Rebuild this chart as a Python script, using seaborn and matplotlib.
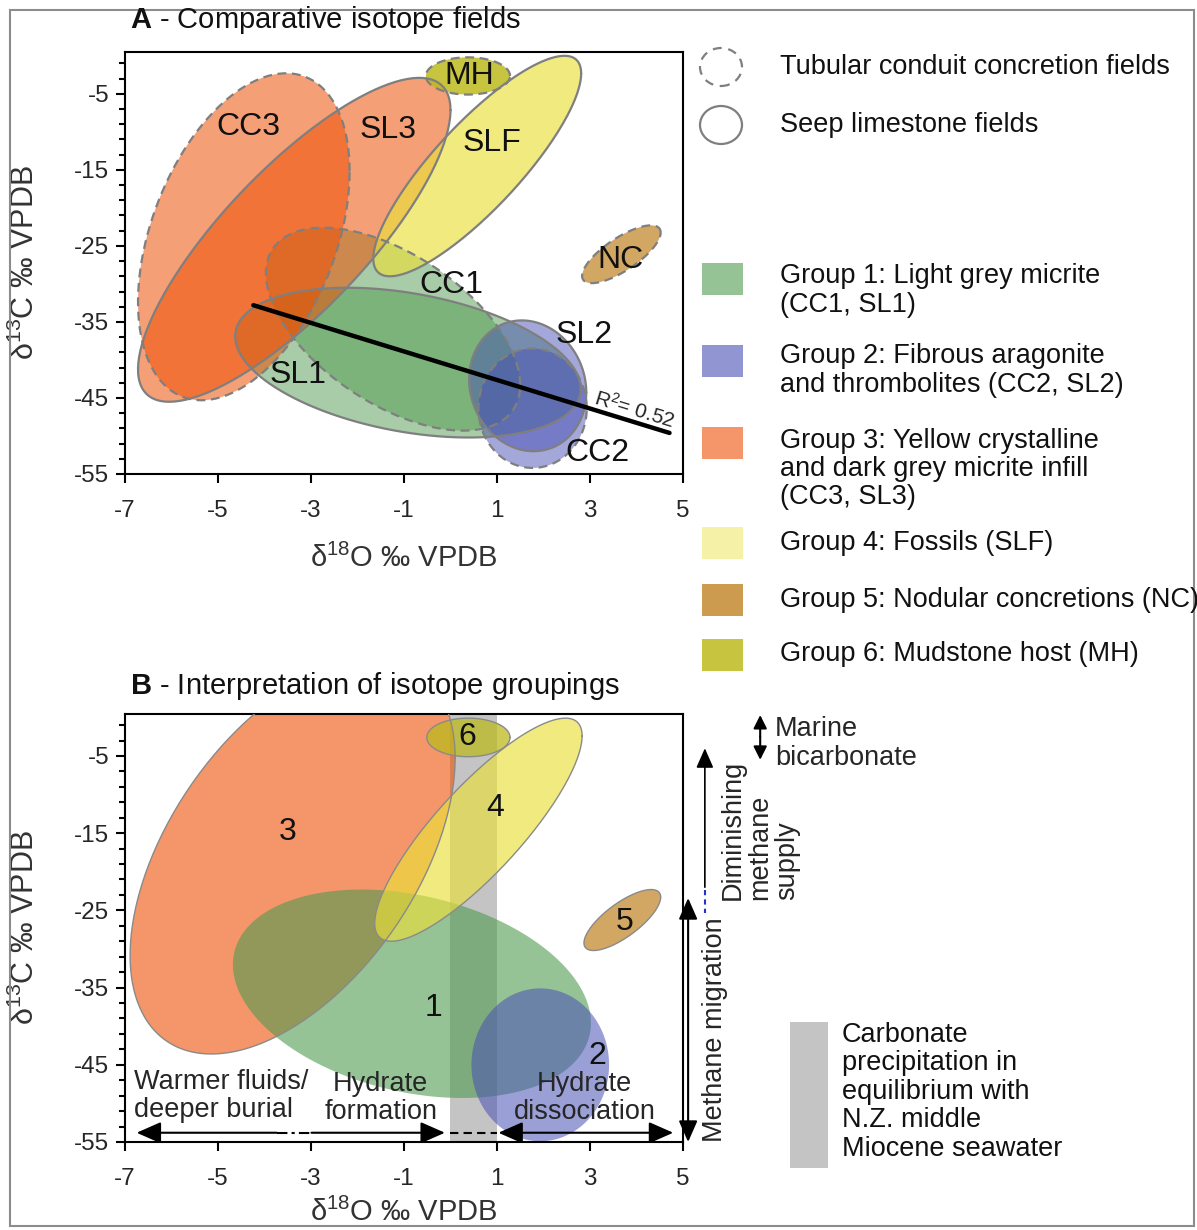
import numpy as np
import pandas as pd
import matplotlib
matplotlib.use("Agg")
import matplotlib.pyplot as plt
from matplotlib.patches import Rectangle, Ellipse
import seaborn as sns

# ===============================
# DATA
# ===============================
x_ticks = [-7, -5, -3, -1, 1, 3, 5]
y_ticks = [-55, -45, -35, -25, -15, -5]
y_minor = list(range(-55, 0, 2))

# Panel A fields: bounding box (d18O, d13C) and tilt of each ellipse
a_names = ["CC1", "SL1", "CC3", "SL3", "SLF", "MH", "NC", "SL2", "CC2"]
a_group = [1, 1, 3, 3, 4, 6, 5, 2, 2]
a_dashed = [True, False, True, False, False, True, True, False, True]
a_x_lo = [-3.97, -4.63, -6.72, -6.72, -1.66, -0.53, 2.83, 0.40, 0.60]
a_x_hi = [1.5, 2.8, -2.17, 0.0, 2.81, 1.28, 4.52, 2.92, 2.93]
a_y_lo = [-49.3, -50.2, -45.3, -45.5, -29.0, -5.1, -29.9, -52.0, -54.2]
a_y_hi = [-22.6, -30.5, -2.3, -2.9, 0.0, -0.2, -22.3, -34.8, -38.5]
a_rho = [-0.55, -0.35, 0.4, 0.8, 0.84, 0.0, 0.75, -0.1, 0.0]
a_lab_x = [0.02, -3.27, -4.34, -1.34, 0.89, 0.4, 3.65, 2.87, 3.16]
a_lab_y = [-30.2, -42.0, -9.3, -9.8, -11.5, -2.6, -26.8, -36.7, -52.3]

# regression line through all data
reg_x = [-4.24, 4.71]
reg_y = [-32.8, -49.6]

# Panel B: interpreted groups
b_group = [3, 1, 4, 2, 6, 5]
b_x_lo = [-6.89, -4.68, -1.63, 0.45, -0.51, 2.87]
b_x_hi = [0.1, 3.02, 2.83, 3.41, 1.28, 4.52]
b_y_lo = [-43.6, -49.3, -29.0, -54.9, -5.1, -30.2]
b_y_hi = [7.5, -22.3, -0.1, -35.1, -0.1, -22.3]
b_rho = [0.5, -0.28, 0.84, 0.0, 0.0, 0.75]
b_edge = [True, False, True, False, True, True]
b_lab_x = [-3.5, -0.37, 0.97, 3.16, 0.36, 3.75]
b_lab_y = [-14.9, -37.7, -11.7, -43.8, -2.6, -26.5]

# seawater equilibrium band (d18O)
band_x = [0.0, 1.0]

group_labels = [
    "Group 1: Light grey micrite\n(CC1, SL1)",
    "Group 2: Fibrous aragonite\nand thrombolites (CC2, SL2)",
    "Group 3: Yellow crystalline\nand dark grey micrite infill\n(CC3, SL3)",
    "Group 4: Fossils (SLF)",
    "Group 5: Nodular concretions (NC)",
    "Group 6: Mudstone host (MH)",
]
group_colors = {1: "#509B50", 2: "#4850B4", 3: "#EE5005",
                4: "#EAE03A", 5: "#C48A30", 6: "#BDBA1E"}
alpha_a = {1: 0.5, 2: 0.5, 3: 0.55, 4: 0.65, 5: 0.75, 6: 0.85}
alpha_b = {1: 0.6, 2: 0.55, 3: 0.6, 4: 0.65, 5: 0.75, 6: 0.75}
alpha_leg = {1: 0.6, 2: 0.6, 3: 0.6, 4: 0.45, 5: 0.85, 6: 0.85}

# ===============================
# STYLE
# ===============================
sns.set_theme(style="ticks")
plt.rcParams["font.family"] = ["Liberation Sans", "DejaVu Sans"]
plt.rcParams["mathtext.fontset"] = "custom"
plt.rcParams["mathtext.rm"] = "Liberation Sans"
plt.rcParams["mathtext.it"] = "Liberation Sans:italic"
plt.rcParams["mathtext.bf"] = "Liberation Sans:bold"
plt.rcParams["axes.unicode_minus"] = False
plt.rcParams["axes.edgecolor"] = "black"
plt.rcParams["axes.linewidth"] = 1.5

W, H = 1197, 1230


def fx(px):
    return px / W


def fy(py):
    return 1 - py / H


def field_xy(x_lo, x_hi, y_lo, y_hi, rho):
    t = np.linspace(0, 2 * np.pi, 240)
    cx, cy = (x_lo + x_hi) / 2, (y_lo + y_hi) / 2
    hw, hh = (x_hi - x_lo) / 2, (y_hi - y_lo) / 2
    return (cx + hw * np.cos(t),
            cy + hh * (rho * np.cos(t) + np.sqrt(1 - rho ** 2) * np.sin(t)))


def style_axes(ax, ylab_x, xlab_y):
    ax.set_xlim(-7, 5)
    ax.set_ylim(-55, 0.5)
    ax.set_xticks(x_ticks)
    ax.set_xticklabels([str(v) for v in x_ticks])
    ax.set_yticks(y_ticks)
    ax.set_yticklabels([str(v) for v in y_ticks])
    ax.set_yticks(y_minor, minor=True)
    ax.tick_params(axis="both", which="major", direction="out", length=6.5,
                   width=1.5, labelsize=17.5, color="black")
    ax.tick_params(axis="x", which="major", pad=12)
    ax.tick_params(axis="y", which="major", pad=5)
    ax.tick_params(axis="y", which="minor", direction="out", length=4,
                   width=1.5, color="black")
    ax.set_xlabel("δ$^{18}$O ‰ VPDB", fontsize=21, color="#333333")
    ax.set_ylabel("δ$^{13}$C ‰ VPDB", fontsize=22, color="#333333")
    ax.xaxis.set_label_coords(0.5, xlab_y)
    ax.yaxis.set_label_coords(ylab_x, 0.5)
    for s in ax.spines.values():
        s.set_color("black")
        s.set_linewidth(1.5)


def arrow(ax, x0, y0, x1, y1, style, ms=22, lw=1.5):
    ax.annotate("", xy=(x1, y1), xytext=(x0, y0), xycoords="data",
                annotation_clip=False,
                arrowprops=dict(arrowstyle=style, color="black", lw=lw,
                                shrinkA=0, shrinkB=0, mutation_scale=ms))


fig = plt.figure(figsize=(W / 100, H / 100), dpi=100)
fig.patches.append(Rectangle((fx(10), fy(1226)), fx(1184), 1216 / H,
                             transform=fig.transFigure, fill=False,
                             ec="#8c8c8c", lw=1.5))

# ===============================
# PANEL A
# ===============================
axA = fig.add_axes([fx(125), fy(474), 558 / W, 422 / H])
for i, name in enumerate(a_names):
    xs, ys = field_xy(a_x_lo[i], a_x_hi[i], a_y_lo[i], a_y_hi[i], a_rho[i])
    g = a_group[i]
    axA.fill(xs, ys, color=group_colors[g], alpha=alpha_a[g], lw=0, zorder=2)
    axA.plot(xs, ys, color="#7f7f7f", lw=1.6, zorder=3,
             linestyle=(0, (4, 2.5)) if a_dashed[i] else "-")
    axA.text(a_lab_x[i], a_lab_y[i], name, fontsize=23, ha="center",
             va="center", color="#111111", zorder=6)

reg = pd.DataFrame({"x": reg_x, "y": reg_y})
sns.lineplot(data=reg, x="x", y="y", color="black", lw=3.2, ax=axA, zorder=5)
axA.text(3.95, -46.5, "R$^2$= 0.52", fontsize=15, rotation=-17,
         ha="center", va="center", zorder=6)
style_axes(axA, -0.15, -0.165)

fig.text(fx(130), fy(20), r"$\bf{A}$ - Comparative isotope fields",
         fontsize=21, ha="left", va="center", color="#111111")

# legend of panel A
leg_font = 19.5
fig.patches.append(Ellipse((fx(721), fy(67)), 42 / W, 38 / H,
                           transform=fig.transFigure, fill=False, ec="#7f7f7f",
                           lw=1.6, linestyle=(0, (4, 3))))
fig.patches.append(Ellipse((fx(721), fy(125)), 42 / W, 38 / H,
                           transform=fig.transFigure, fill=False, ec="#7f7f7f",
                           lw=1.6))
fig.text(fx(780), fy(67), "Tubular conduit concretion fields",
         fontsize=leg_font, va="center", color="#111111")
fig.text(fx(780), fy(125), "Seep limestone fields",
         fontsize=leg_font, va="center", color="#111111")

rect_top = [263, 345, 427, 527, 584, 639]
text_first = [275, 355, 438, 543, 600, 654]
for k, lab in enumerate(group_labels):
    g = k + 1
    fig.patches.append(Rectangle((fx(702), fy(rect_top[k] + 32)), 41 / W,
                                 32 / H, transform=fig.transFigure,
                                 fc=group_colors[g], alpha=alpha_leg[g],
                                 ec="none"))
    n = lab.count("\n")
    fig.text(fx(780), fy(text_first[k] + n * 15.5), lab, fontsize=leg_font,
             va="center", ha="left", linespacing=1.12, color="#111111")

# ===============================
# PANEL B
# ===============================
axB = fig.add_axes([fx(125), fy(1142), 558 / W, 428.5 / H])
axB.axvspan(band_x[0], band_x[1], color="#c4c4c4", lw=0, zorder=1)
for i, g in enumerate(b_group):
    xs, ys = field_xy(b_x_lo[i], b_x_hi[i], b_y_lo[i], b_y_hi[i], b_rho[i])
    axB.fill(xs, ys, color=group_colors[g], alpha=alpha_b[g], lw=0, zorder=2)
    if b_edge[i]:
        axB.plot(xs, ys, color="#8a8a8a", lw=1.0, zorder=3)
    axB.text(b_lab_x[i], b_lab_y[i], str(g), fontsize=23, ha="center",
             va="center", color="#111111", zorder=6)

style_axes(axB, -0.15, -0.13)
fig.text(fx(130), fy(686), r"$\bf{B}$ - Interpretation of isotope groupings",
         fontsize=21, ha="left", va="center", color="#111111")

# process arrows along the d18O axis
ya = -53.8
hd = "-|>,head_length=0.5,head_width=0.22"
arrow(axB, -3.74, ya, -6.75, ya, hd, ms=30)
sns.lineplot(x=[-3.74, -2.99], y=[ya, ya], color="black", lw=1.5,
             linestyle=(0, (5, 2, 1.5, 2)), ax=axB)
arrow(axB, -2.99, ya, -0.12, ya, hd, ms=30)
sns.lineplot(x=[0.0, 1.0], y=[ya, ya], color="black", lw=1.5,
             linestyle=(0, (4, 2.5)), ax=axB)
arrow(axB, 1.03, ya, 4.79, ya,
      "<|-|>,head_length=0.5,head_width=0.22", ms=30)

axB.text(-6.8, -47.2, "Warmer fluids/", fontsize=19.5, ha="left", va="center")
axB.text(-6.8, -50.9, "deeper burial", fontsize=19.5, ha="left", va="center")
axB.text(-1.5, -47.5, "Hydrate", fontsize=19.5, ha="center", va="center")
axB.text(-1.5, -51.1, "formation", fontsize=19.5, ha="center", va="center")
axB.text(2.88, -47.5, "Hydrate", fontsize=19.5, ha="center", va="center")
axB.text(2.88, -51.1, "dissociation", fontsize=19.5, ha="center", va="center")

# process arrows along the d13C axis (outside the frame)
arrow(axB, 5.11, -55.0, 5.11, -23.4,
      "<|-|>,head_length=0.5,head_width=0.22", ms=26)
arrow(axB, 5.47, -22.0, 5.47, -4.0, "-|>,head_length=0.5,head_width=0.22",
      ms=24, lw=1.2)
axB.plot([5.47, 5.47], [-22.3, -25.3], color="#2233cc", lw=1.5,
         linestyle=(0, (2.5, 2)), clip_on=False)
arrow(axB, 6.66, -2.5, 6.66, 0.3, "-|>,head_length=0.5,head_width=0.25", ms=16)
arrow(axB, 6.66, -2.5, 6.66, -5.5, "-|>,head_length=0.5,head_width=0.25", ms=16)

axB.text(5.68, -55.0, "Methane migration", fontsize=19.5, rotation=90,
         ha="center", va="bottom", clip_on=False)
axB.text(6.66, -23.6, "Diminishing\nmethane\nsupply", fontsize=19.5,
         rotation=90, ha="center", va="bottom", multialignment="left",
         linespacing=1.05, clip_on=False)
axB.text(6.98, 0.2, "Marine\nbicarbonate", fontsize=19.5, ha="left",
         va="top", linespacing=1.15, clip_on=False)

# legend for the seawater band
fig.patches.append(Rectangle((fx(790), fy(1168)), 38 / W, 146 / H,
                             transform=fig.transFigure, fc="#c4c4c4",
                             ec="none"))
fig.text(fx(842), fy(1022), "Carbonate\nprecipitation in\nequilibrium with\n"
         "N.Z. middle\nMiocene seawater", fontsize=19.5, ha="left", va="top",
         linespacing=1.12, color="#111111")

plt.savefig("out.png", dpi=100)
